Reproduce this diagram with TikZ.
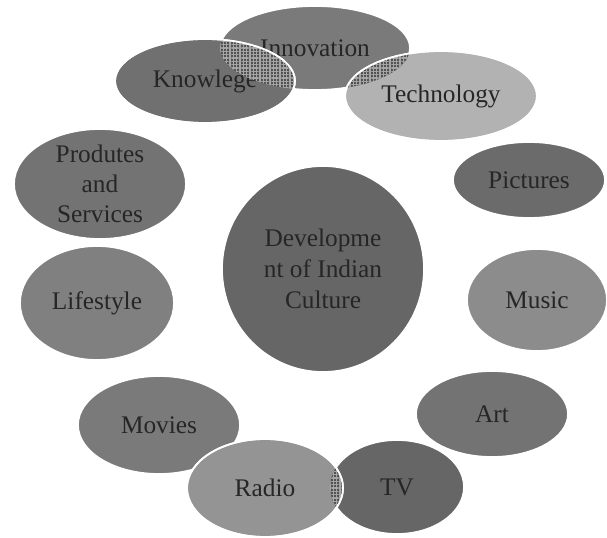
\documentclass[tikz,border=0pt]{standalone}
\usepackage{fontspec}
\setmainfont{Liberation Serif}
\usetikzlibrary{shapes.geometric,patterns.meta}

\begin{document}
\begin{tikzpicture}[
  x=0.75pt, y=-0.75pt,
  bubble/.style={ellipse, draw=white, line width=1.3pt, align=center, inner sep=0pt,
    text=black!85, font=\fontsize{19}{23}\selectfont},
  rad/.style 2 args={minimum width=1.5pt*#1, minimum height=1.5pt*#2},
  overlap/.style={pattern={Lines[angle=#1,distance=2.5pt,line width=0.8pt]}, pattern color=black!35}
]
\useasboundingbox (0,0) rectangle (607,538);

% outer ring
\node[bubble, rad={95}{42}, fill=black!52] (innov) at (315,48) {Innovation};
\node[bubble, rad={90}{42}, fill=black!56] (knowl) at (205,81) {Knowlege};
\node[bubble, rad={96}{45}, fill=black!30] (tech) at (441,96) {Technology};
\node[bubble, rad={86}{55}, fill=black!55, inner sep=-14pt, font=\fontsize{19}{22.5}\selectfont] (prod) at (100,184) {Produtes\\and\\Services};
\node[bubble, rad={76}{38}, fill=black!58] (pict) at (529,180) {Pictures};
\node[bubble, rad={70}{51}, fill=black!45] (music) at (537,300) {Music};
\node[bubble, rad={77}{57}, fill=black!50] (life) at (97,303) {Lifestyle};
\node[bubble, rad={81}{49}, fill=black!52] (movies) at (159,425) {Movies};
\node[bubble, rad={76}{43}, fill=black!55] (art) at (492,414) {Art};
\node[bubble, rad={67}{47}, fill=black!60] (tv) at (397,487) {TV};
\node[bubble, rad={78}{49}, fill=black!42] (radio) at (265,488) {Radio};

% centre
\node[bubble, rad={101}{103}, fill=black!60, inner sep=-6pt, font=\fontsize{19}{23.5}\selectfont] (culture) at (323,269) {Developme\\nt of Indian\\Culture};

% overlaps
\begin{scope}
  \clip (315,48) ellipse [x radius=95, y radius=42];
  \foreach \cx/\cy/\rx/\ry in {205/81/90/42, 441/96/96/45} {
    \fill[black!68] (\cx,\cy) ellipse [x radius=\rx, y radius=\ry];
    \fill[overlap=0] (\cx,\cy) ellipse [x radius=\rx, y radius=\ry];
    \fill[overlap=90] (\cx,\cy) ellipse [x radius=\rx, y radius=\ry];
  }
\end{scope}
\begin{scope}
  \clip (397,487) ellipse [x radius=67, y radius=47];
  \fill[black!68] (265,488) ellipse [x radius=78, y radius=49];
  \fill[overlap=0] (265,488) ellipse [x radius=78, y radius=49];
  \fill[overlap=90] (265,488) ellipse [x radius=78, y radius=49];
\end{scope}
\draw[white, line width=1.3pt] (205,81) ellipse [x radius=90, y radius=42];
\draw[white, line width=1.3pt] (441,96) ellipse [x radius=96, y radius=45];
\draw[white, line width=1.3pt] (265,488) ellipse [x radius=78, y radius=49];
\end{tikzpicture}
\end{document}
